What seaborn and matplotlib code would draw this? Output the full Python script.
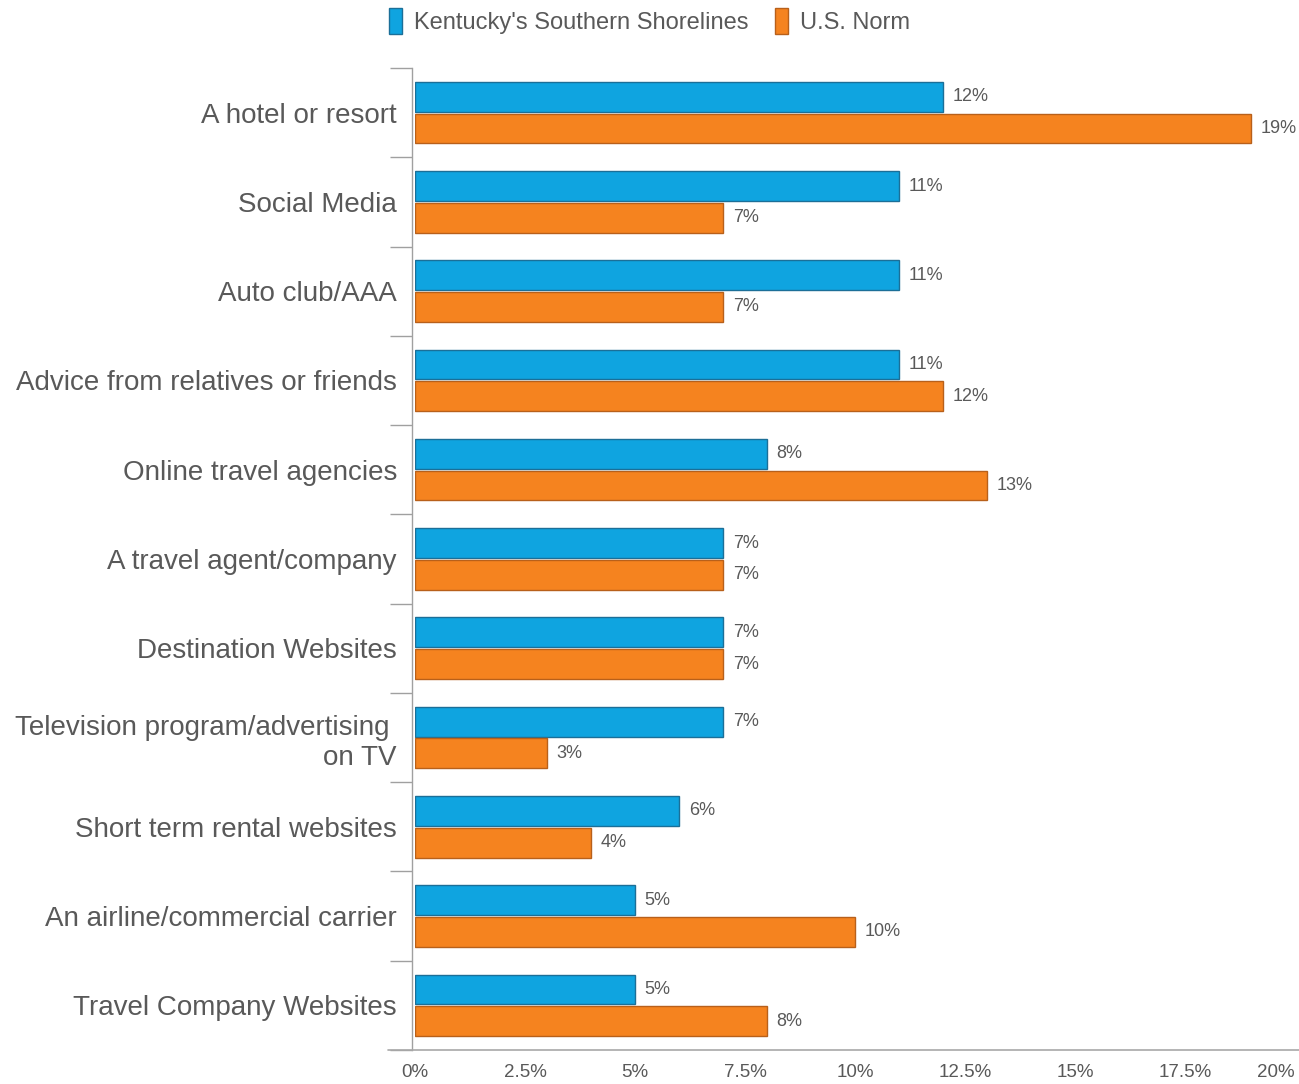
import matplotlib
matplotlib.use("Agg")
import matplotlib.pyplot as plt
from matplotlib.patches import Patch
from matplotlib.lines import Line2D
from matplotlib.ticker import FixedLocator, FuncFormatter
from matplotlib.transforms import ScaledTranslation
import seaborn as sns
import pandas as pd

# Information sources used for trip planning
categories = [
    "A hotel or resort",
    "Social Media",
    "Auto club/AAA",
    "Advice from relatives or friends",
    "Online travel agencies",
    "A travel agent/company",
    "Destination Websites",
    "Television program/advertising \non TV",
    "Short term rental websites",
    "An airline/commercial carrier",
    "Travel Company Websites",
]
series_names = ["Kentucky's Southern Shorelines", "U.S. Norm"]
kentucky = [12, 11, 11, 11, 8, 7, 7, 7, 6, 5, 5]
us_norm = [19, 7, 7, 12, 13, 7, 7, 3, 4, 10, 8]
x_ticks = [0, 2.5, 5, 7.5, 10, 12.5, 15, 17.5, 20]

fill_colors = ["#0fa4e0", "#f5831f"]
edge_colors = ["#1b6f98", "#b8601a"]
text_gray = "#595959"

df = pd.DataFrame({
    "Source": categories * 2,
    "Share": kentucky + us_norm,
    "Group": [series_names[0]] * len(categories) + [series_names[1]] * len(categories),
})

sns.set_theme(style="white")
plt.rcParams["font.family"] = ["Liberation Sans", "DejaVu Sans"]

fig = plt.figure(figsize=(12.99, 10.84), dpi=100)
ax = fig.add_axes([0.3195, 0.0314, 0.6774, 0.9059])

sns.barplot(
    data=df, y="Source", x="Share", hue="Group", order=categories,
    hue_order=series_names, palette=fill_colors, orient="h",
    width=0.71, gap=0.06, ax=ax, legend=False, errorbar=None,
    saturation=1,
)

# Darker outline per series
for container, ec in zip(ax.containers, edge_colors):
    for bar in container:
        bar.set_edgecolor(ec)
        bar.set_linewidth(1.0)

# Value labels at bar ends, nudged slightly down
nudge_down = ScaledTranslation(0, -3 / 100, fig.dpi_scale_trans)
for container, vals in zip(ax.containers, [kentucky, us_norm]):
    texts = ax.bar_label(container, labels=[f"{v}%" for v in vals], padding=7,
                         fontsize=13, color=text_gray)
    for t in texts:
        t.set_transform(t.get_transform() + nudge_down)

n = len(categories)
ax.set_xlim(0, 20)
ax.set_ylim(n - 0.5, -0.5)
ax.xaxis.set_major_locator(FixedLocator(x_ticks))
ax.xaxis.set_major_formatter(FuncFormatter(lambda v, p: f"{v:g}%"))
ax.tick_params(axis="x", length=0, labelsize=13.5, labelcolor=text_gray, pad=10)
ax.tick_params(axis="y", which="major", length=0, labelsize=20,
               labelcolor=text_gray, pad=11)
ax.yaxis.set_minor_locator(FixedLocator([i - 0.5 for i in range(n + 1)]))
ax.tick_params(axis="y", which="minor", left=True, length=16, width=1.0,
               color="#a0a0a0")
ax.set_xlabel("")
ax.set_ylabel("")

fig.canvas.draw()
# Keep the last x label inside the figure
ax.get_xticklabels()[-1].set_horizontalalignment("right")
# Category labels sit a touch below the band centre
label_shift = ScaledTranslation(0, -3 / 100, fig.dpi_scale_trans)
for lbl in ax.get_yticklabels():
    lbl.set_transform(lbl.get_transform() + label_shift)

for side in ["top", "right", "bottom"]:
    ax.spines[side].set_visible(False)
ax.spines["left"].set_color("#a0a0a0")
ax.spines["left"].set_linewidth(1.0)
ax.spines["left"].set_position(("outward", 2))

# Baseline running across the full width
fig.add_artist(Line2D([388 / 1299, 1.0], [34 / 1084, 34 / 1084],
                      color="#a8a8a8", linewidth=1.2, transform=fig.transFigure))

handles = [Patch(facecolor=c, edgecolor=e, linewidth=1.0)
           for c, e in zip(fill_colors, edge_colors)]
fig.legend(handles, series_names, loc="upper center", bbox_to_anchor=(0.5, 1.012),
           ncol=2, frameon=False, fontsize=17, labelcolor=text_gray,
           handlelength=0.55, handleheight=1.3, handletextpad=0.5,
           columnspacing=1.1)

fig.savefig("out.png", dpi=100)
